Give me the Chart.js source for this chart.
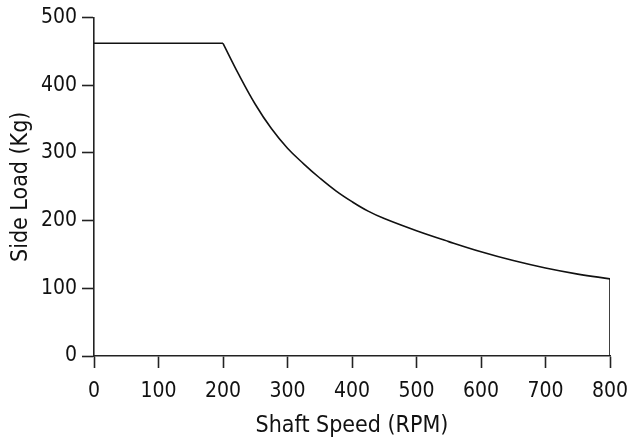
<!DOCTYPE html>
<html>
<head>
<meta charset="utf-8">
<script src="https://cdn.jsdelivr.net/npm/chart.js@4/dist/chart.umd.min.js"></script>
<style>
  html, body { margin: 0; padding: 0; background: #fff; }
  #wrap { width: 627px; height: 440px; }
</style>
</head>
<body>
<div id="wrap"><canvas id="sideLoad"></canvas></div>
<script>
// flat part of the curve (RPM, Kg)
const flatSpeed = [0, 200];
const flatLoad = [462, 462];
// falling part of the curve
const curveSpeed = [200, 225, 250, 275, 300, 325, 350, 375, 400, 425, 450, 500, 550, 600, 650, 700, 750, 800];
const curveLoad = [462, 415, 372, 336, 307, 284, 263, 244, 228, 214, 203, 185, 169, 154, 141, 130, 121, 114];
// drop at max speed
const dropSpeed = [800, 800];
const dropLoad = [114, 0];

const xTicks = [0, 100, 200, 300, 400, 500, 600, 700, 800];
const yTicks = [0, 100, 200, 300, 400, 500];

const toPts = (xs, ys) => xs.map((x, i) => ({ x: x, y: ys[i] }));
const fontFam = '"Liberation Sans Narrow", "DejaVu Sans Condensed", "Liberation Sans", sans-serif';
const ink = '#222';

const lineStyle = {
  showLine: true,
  borderColor: '#111',
  borderWidth: 1.6,
  pointRadius: 0,
  fill: false
};

const ctx = document.getElementById('sideLoad').getContext('2d');
const chart = new Chart(ctx, {
  type: 'scatter',
  data: {
    datasets: [
      Object.assign({ data: toPts(flatSpeed, flatLoad), tension: 0 }, lineStyle),
      Object.assign({ data: toPts(curveSpeed, curveLoad), tension: 0.4 }, lineStyle),
      Object.assign({ data: toPts(dropSpeed, dropLoad), tension: 0 }, lineStyle)
    ]
  },
  options: {
    responsive: true,
    maintainAspectRatio: false,
    animation: false,
    layout: { padding: { top: 16, right: 0, bottom: 0, left: 3 } },
    plugins: { legend: { display: false }, tooltip: { enabled: false } },
    scales: {
      x: {
        type: 'linear',
        min: 0,
        max: 800,
        afterBuildTicks: (s) => { s.ticks = xTicks.map(v => ({ value: v })); },
        afterFit: (s) => { s.height = 84; s.paddingRight = 17; s.paddingLeft = 0; },
        border: { display: true, color: ink, width: 1.6 },
        grid: { drawOnChartArea: false, tickLength: 12, tickColor: ink, tickWidth: 1.6 },
        ticks: { color: '#111', padding: 11, maxRotation: 0, font: { family: fontFam, size: 21 } },
        title: { display: true, text: 'Shaft Speed (RPM)', color: '#111', padding: { top: 4, bottom: 0 }, font: { family: fontFam, size: 23 } }
      },
      y: {
        type: 'linear',
        min: 0,
        max: 500,
        afterBuildTicks: (s) => { s.ticks = yTicks.map(v => ({ value: v })); },
        afterFit: (s) => { s.width = 91; },
        border: { display: true, color: ink, width: 1.6 },
        grid: { drawOnChartArea: false, tickLength: 12, tickColor: ink, tickWidth: 1.6 },
        ticks: { color: '#111', padding: 5, font: { family: fontFam, size: 21 } },
        title: { display: true, text: 'Side Load (Kg)', color: '#111', font: { family: fontFam, size: 23 } }
      }
    }
  }
});
</script>
</body>
</html>
